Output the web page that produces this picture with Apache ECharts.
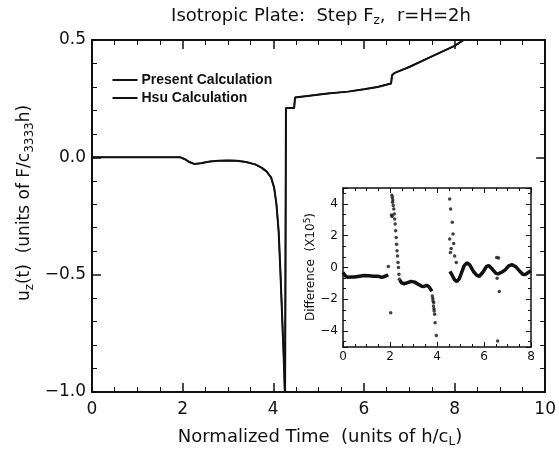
<!DOCTYPE html>
<html>
<head>
<meta charset="utf-8">
<script src="https://cdn.jsdelivr.net/npm/echarts@6/dist/echarts.min.js"></script>
<style>
  html, body { margin: 0; padding: 0; background: #fff; }
  #chart { width: 559px; height: 449px; }
</style>
</head>
<body>
<div id="chart"></div>
<script>
// main plot: normalized time and displacement (both calculations overlap)
const timeMain = [0, 1, 1.95, 2.05, 2.15, 2.25, 2.4, 2.6, 2.8, 3.0, 3.2, 3.4, 3.6, 3.75, 3.85, 3.95,
  4.02, 4.07, 4.12, 4.16, 4.2, 4.23, 4.26, 4.28, 4.28, 4.46, 4.48, 5.2, 5.65, 6.0, 6.3, 6.6,
  6.62, 6.68, 7.0, 7.5, 8.0, 8.2];
const presentMain = [0, 0, 0, -0.008, -0.02, -0.028, -0.025, -0.018, -0.015, -0.014, -0.015, -0.02,
  -0.03, -0.045, -0.06, -0.085, -0.13, -0.2, -0.32, -0.5, -0.7, -0.85, -1.03, -1.03, 0.21, 0.21,
  0.255, 0.272, 0.28, 0.29, 0.3, 0.315, 0.35, 0.36, 0.385, 0.43, 0.475, 0.5];
const hsuMain = [0, 0, 0, -0.008, -0.02, -0.028, -0.025, -0.018, -0.015, -0.014, -0.015, -0.02,
  -0.03, -0.045, -0.06, -0.085, -0.13, -0.2, -0.32, -0.5, -0.7, -0.85, -1.03, -1.03, 0.21, 0.21,
  0.255, 0.272, 0.28, 0.29, 0.3, 0.315, 0.35, 0.36, 0.385, 0.43, 0.475, 0.5];
const seriesNames = ['Present Calculation', 'Hsu Calculation'];

// inset: dense part of the difference (null = gap)
const diffCurveX = [0, 0.08, 0.2, 0.35, 0.5, 0.7, 0.9, 1.1, 1.3, 1.5, 1.65, 1.8, 1.92, null,
  2.42, 2.5, 2.6, 2.75, 2.9, 3.05, 3.2, 3.35, 3.45, 3.55, 3.65, 3.72, 3.78, null,
  4.55, 4.65, 4.75, 4.85, 4.95, 5.05, 5.15, 5.28, 5.4, 5.55, 5.7, 5.8, 5.95, 6.1, 6.2, 6.35,
  6.5, 6.6, 6.75, 6.9, 7.05, 7.2, 7.35, 7.5, 7.65, 7.75, 7.9, 8.0];
const diffCurveY = [-0.3, -0.5, -0.62, -0.6, -0.6, -0.55, -0.5, -0.52, -0.55, -0.55, -0.62, -0.55, -0.45, null,
  -0.8, -0.97, -1.02, -0.95, -0.87, -0.92, -1.05, -1.18, -1.2, -1.12, -1.2, -1.35, -1.5, null,
  -0.25, -0.5, -0.78, -0.88, -0.7, -0.3, 0.1, 0.3, 0.15, -0.25, -0.5, -0.55, -0.3, 0.05, 0.12, -0.1,
  -0.35, -0.4, -0.3, -0.15, 0.1, 0.18, 0.05, -0.2, -0.42, -0.45, -0.3, -0.2];

// inset: isolated points
const diffDotX = [1.93, 2.03, 2.08, 2.1, 2.12, 2.11, 2.14, 2.06, 2.09, 2.16, 2.18, 2.2, 2.22, 2.24,
  2.26, 2.28, 2.3, 2.32, 2.34, 2.36, 2.38, 2.4,
  3.8, 3.82, 3.83, 3.85, 3.86, 3.87, 3.88, 3.9, 3.92, 3.97,
  4.54, 4.58, 4.65, 4.68, 4.54, 4.71, 4.6, 4.57, 4.75, 4.82,
  6.54, 6.62, 6.56, 6.65, 6.58];
const diffDotY = [0.06, -2.84, 4.55, 4.4, 4.25, 4.1, 3.9, 3.3, 3.2, 3.68, 3.36, 3.05, 2.73, 2.31,
  1.89, 1.47, 1.05, 0.73, 0.31, 0.0, -0.42, -0.74,
  -1.79, -1.95, -2.1, -2.42, -2.2, -2.6, -2.73, -2.94, -3.47, -4.27,
  4.31, 3.68, 2.84, 2.1, 1.79, 1.51, 1.2, 0.95, 0.73, 0.31,
  0.63, 0.6, -0.67, -1.51, -4.63];

const INK = '#111';
const FONT = 'DejaVu Sans';

function zip(xs, ys) {
  return xs.map((x, i) => [x, ys[i]]);
}
// split a null-separated curve into its pieces
function pieces(xs, ys) {
  const out = [[]];
  xs.forEach((x, i) => {
    if (x === null) out.push([]);
    else out[out.length - 1].push([x, ys[i]]);
  });
  return out.filter(p => p.length);
}
function signed(v, digits) {
  const s = Math.abs(v).toFixed(digits);
  return v < 0 ? '\u2212' + s : s;
}

// one axis of a framed plot; mirror axes (top/right) only carry ticks
function axis(gi, pos, min, max, big, extra) {
  const main = pos === 'bottom' || pos === 'left';
  return Object.assign({
    type: 'value', gridIndex: gi, position: pos, min: min, max: max,
    axisLine: { show: true, onZero: false, lineStyle: { color: INK, width: big ? 2 : 1.5 } },
    axisTick: { show: true, inside: true, length: big ? 9 : 5, lineStyle: { color: INK, width: big ? 1.5 : 1 } },
    minorTick: { show: true, splitNumber: 4, length: big ? 5 : 3, lineStyle: { color: INK, width: 1 } },
    splitLine: { show: false },
    axisLabel: { show: main, color: INK, fontFamily: FONT, fontSize: big ? 17 : 12, margin: big ? 9 : 4 }
  }, extra);
}

const mainYLabel = { formatter: v => signed(v, 1) };
const insetYLabel = { formatter: v => (v % 2 === 0 ? signed(v, 0) : '') };

function rich(size, subSize, sup) {
  return {
    a: { fontSize: size, lineHeight: size + 4, fill: INK, fontFamily: FONT },
    s: { fontSize: subSize, lineHeight: subSize, verticalAlign: sup ? 'top' : 'bottom', fill: INK, fontFamily: FONT }
  };
}
function label(x, y, text, size, subSize, rot, sup) {
  return {
    type: 'text', x: x, y: y, rotation: rot || 0,
    style: { text: text, rich: rich(size, subSize, sup), align: 'center', verticalAlign: 'middle', fill: INK }
  };
}
// legend entry: short line sample plus bold text
function legendItem(y, text) {
  return {
    type: 'group', left: 110, top: y - 8,
    children: [
      { type: 'line', shape: { x1: 0, y1: 8, x2: 25, y2: 8 }, style: { stroke: INK, lineWidth: 2 } },
      { type: 'text', x: 29, y: 8, style: { text: text, fill: INK, font: 'bold 14px "Liberation Sans"', verticalAlign: 'middle' } }
    ]
  };
}

const chart = echarts.init(document.getElementById('chart'));

const insetLines = pieces(diffCurveX, diffCurveY).map((seg, i) => ({
  name: 'diffCurve' + i, type: 'line', xAxisIndex: 2, yAxisIndex: 2,
  data: seg, symbol: 'none', lineStyle: { color: INK, width: 3.5 }
}));

const option = {
  backgroundColor: '#fff',
  animation: false,
  grid: [
    { left: 92, right: 10, top: 40, bottom: 57, show: false },
    { left: 343, right: 28, top: 188, bottom: 102, show: true, backgroundColor: '#fff', borderWidth: 0 }
  ],
  xAxis: [
    axis(0, 'bottom', 0, 10, true, { interval: 2 }),
    axis(0, 'top', 0, 10, true, { interval: 2 }),
    axis(1, 'bottom', 0, 8, false, { interval: 2 }),
    axis(1, 'top', 0, 8, false, { interval: 2 })
  ],
  yAxis: [
    axis(0, 'left', -1, 0.5, true, { interval: 0.5, minorTick: { show: true, splitNumber: 5, length: 5, lineStyle: { color: INK, width: 1 } },
      axisLabel: Object.assign({ show: true, color: INK, fontFamily: FONT, fontSize: 17, margin: 6 }, mainYLabel) }),
    axis(0, 'right', -1, 0.5, true, { interval: 0.5, minorTick: { show: true, splitNumber: 5, length: 5, lineStyle: { color: INK, width: 1 } } }),
    axis(1, 'left', -5, 5, false, { splitNumber: 5, minorTick: { show: true, splitNumber: 3, length: 3, lineStyle: { color: INK, width: 1 } },
      axisLabel: Object.assign({ show: true, color: INK, fontFamily: FONT, fontSize: 12, margin: 5 }, insetYLabel) }),
    axis(1, 'right', -5, 5, false, { splitNumber: 5, minorTick: { show: true, splitNumber: 3, length: 3, lineStyle: { color: INK, width: 1 } } })
  ],
  graphic: [
    label(321, 16, '{a|Isotropic Plate:  Step F}{s|z}{a|,  r=H=2h}', 18, 12),
    label(320, 437, '{a|Normalized Time  (units of h/c}{s|L}{a|)}', 18, 12),
    label(25, 203, '{a|u}{s|z}{a|(t)  (units of F/c}{s|3333}{a|h)}', 17, 12, Math.PI / 2),
    label(311, 267, '{a|Difference  (X10}{s|5}{a|)}', 12, 9, Math.PI / 2, true),
    legendItem(81, seriesNames[0]),
    legendItem(99, seriesNames[1])
  ],
  series: [
    {
      name: seriesNames[0], type: 'line', xAxisIndex: 0, yAxisIndex: 0,
      data: zip(timeMain, presentMain), symbol: 'none',
      lineStyle: { color: INK, width: 2 }
    },
    {
      name: seriesNames[1], type: 'line', xAxisIndex: 0, yAxisIndex: 0,
      data: zip(timeMain, hsuMain), symbol: 'none',
      lineStyle: { color: INK, width: 1.5 }
    },
    ...insetLines,
    {
      name: 'diffDots', type: 'scatter', xAxisIndex: 2, yAxisIndex: 2,
      data: zip(diffDotX, diffDotY), symbolSize: 3.5,
      itemStyle: { color: INK }
    }
  ]
};

chart.setOption(option);
</script>
</body>
</html>
